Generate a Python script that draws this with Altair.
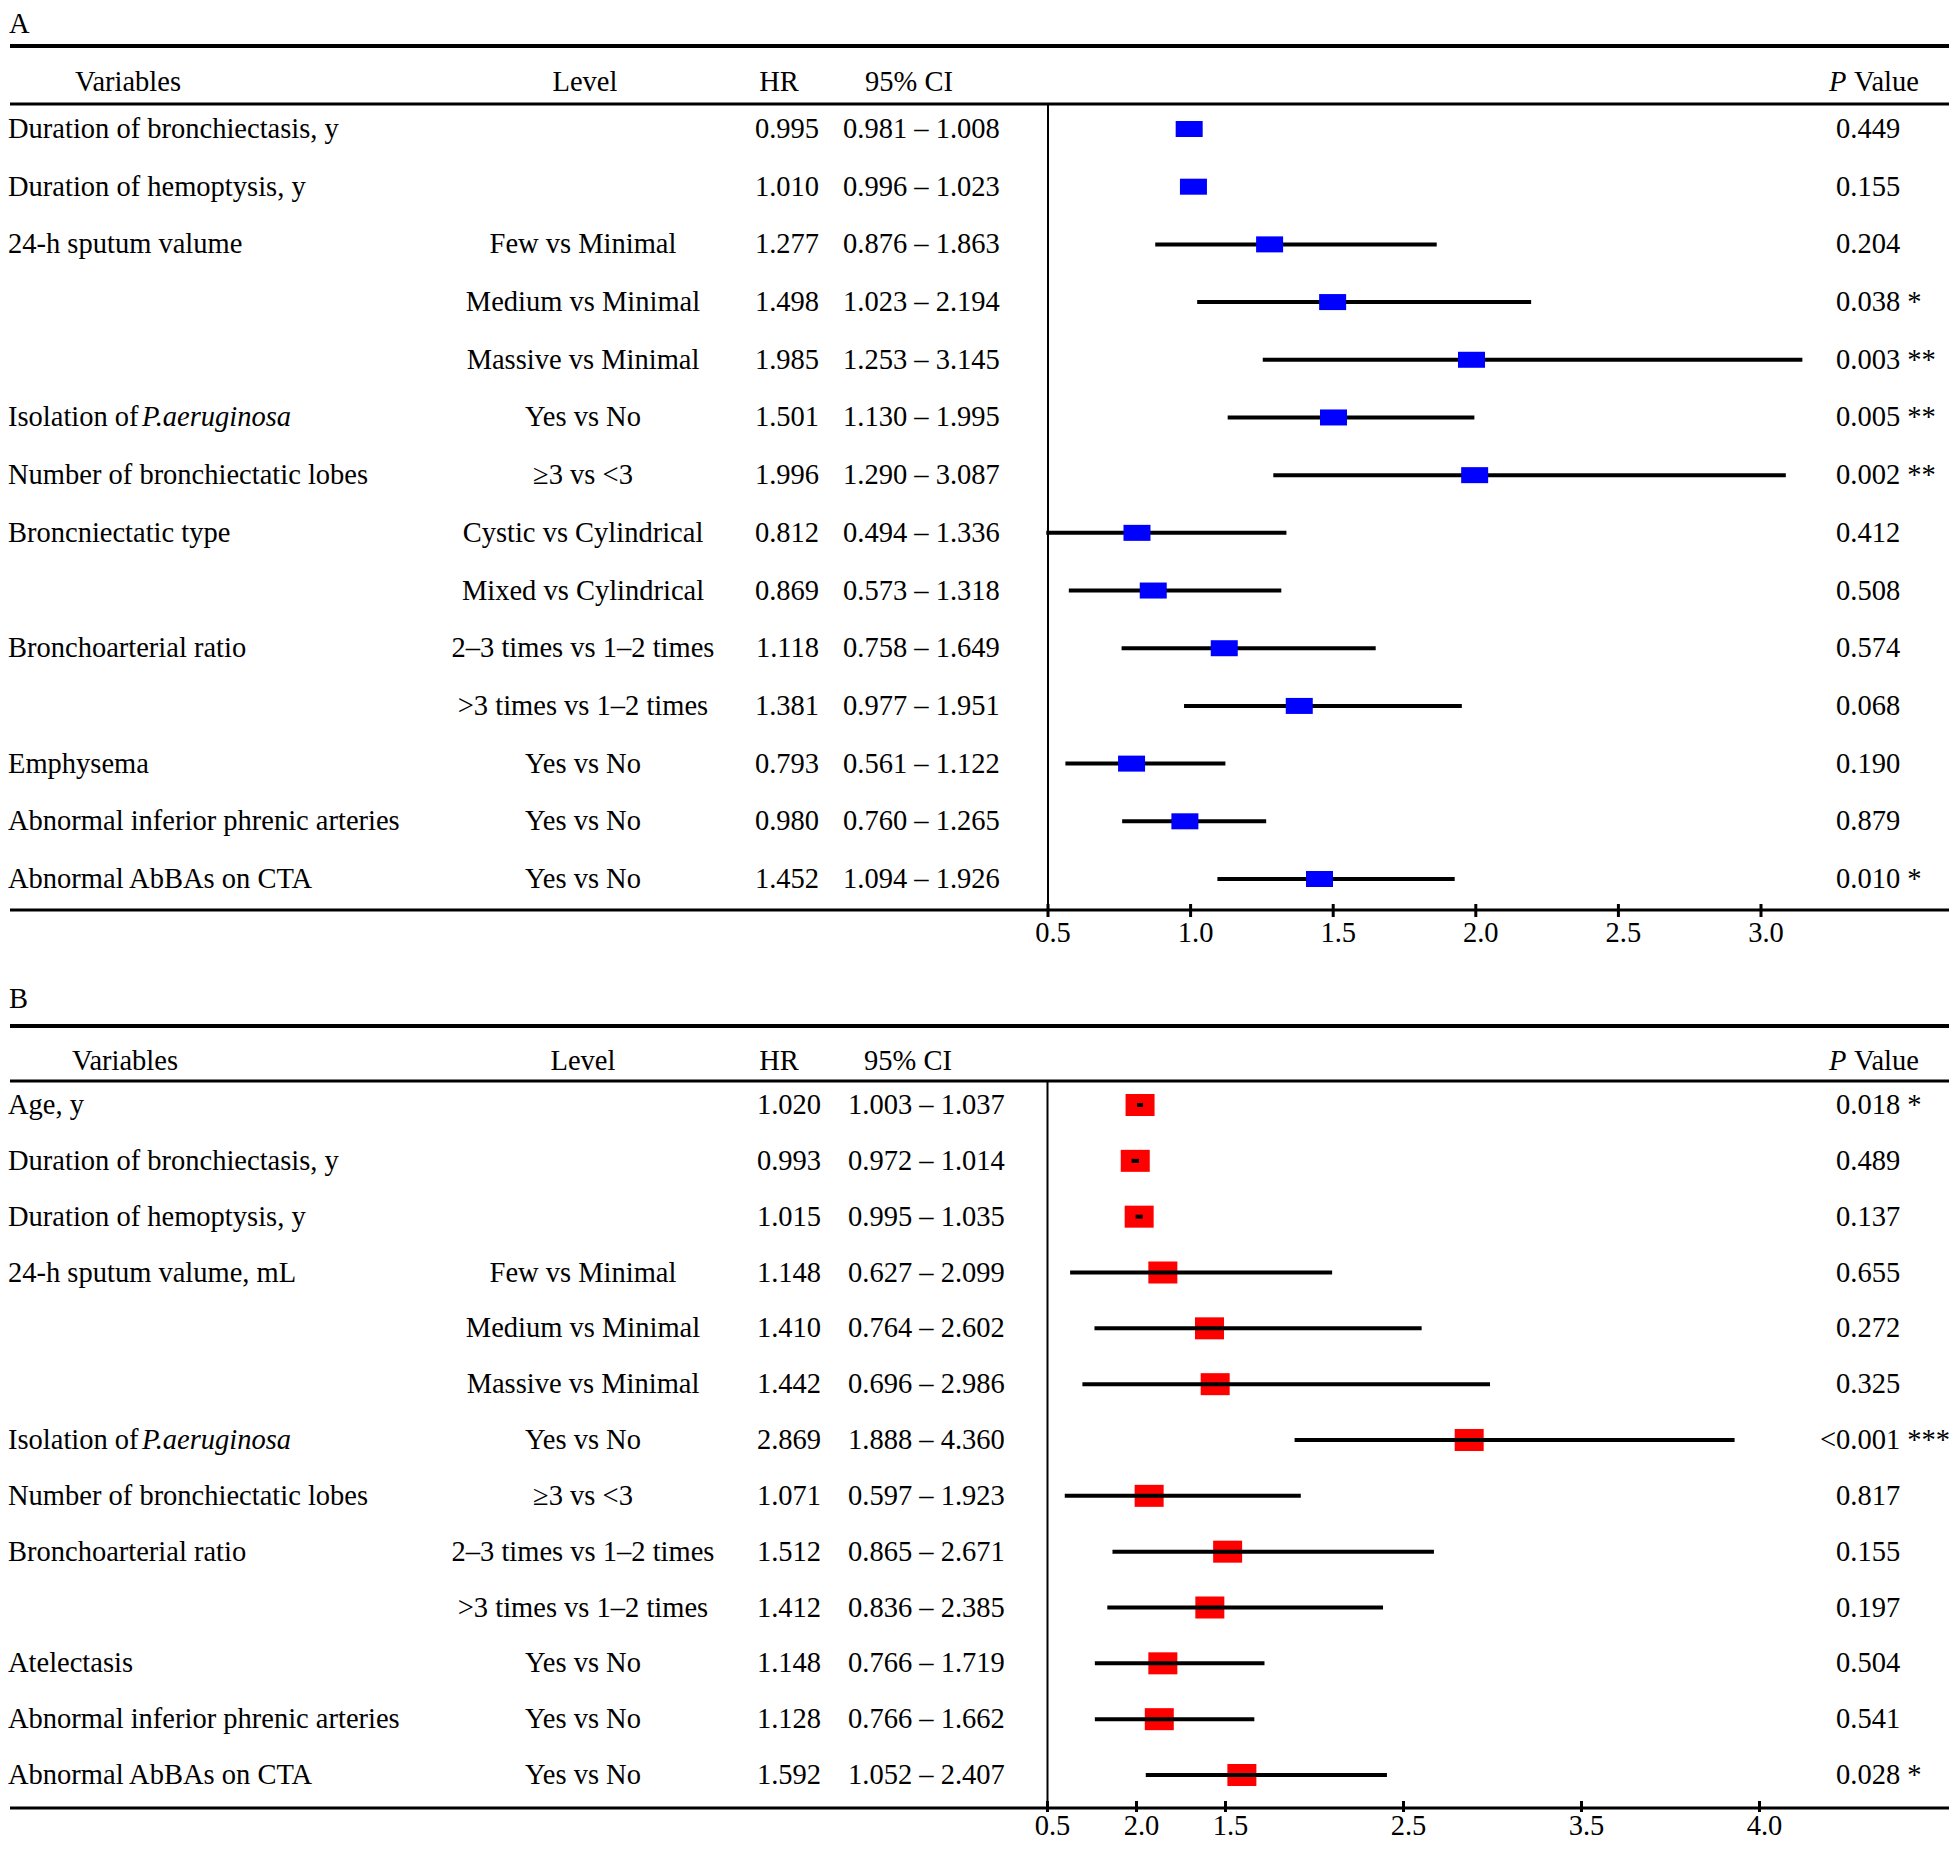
import altair as alt
import pandas as pd

FONT = "Liberation Serif"
FS = 28.5
W = 1943

# ---------------- Panel A data ----------------
vars_A = ["Duration of bronchiectasis, y", "Duration of hemoptysis, y", "24-h sputum valume", "", "",
          "Isolation of ", "Number of bronchiectatic lobes", "Broncniectatic type", "",
          "Bronchoarterial ratio", "", "Emphysema", "Abnormal inferior phrenic arteries",
          "Abnormal AbBAs on CTA"]
italic_A = ["", "", "", "", "", "P.aeruginosa", "", "", "", "", "", "", "", ""]
levels_A = ["", "", "Few vs Minimal", "Medium vs Minimal", "Massive vs Minimal", "Yes vs No",
            "\u22653 vs <3", "Cystic vs Cylindrical", "Mixed vs Cylindrical",
            "2\u20133 times vs 1\u20132 times", ">3 times vs 1\u20132 times", "Yes vs No",
            "Yes vs No", "Yes vs No"]
hr_A = [0.995, 1.010, 1.277, 1.498, 1.985, 1.501, 1.996, 0.812, 0.869, 1.118, 1.381, 0.793, 0.980, 1.452]
lo_A = [0.981, 0.996, 0.876, 1.023, 1.253, 1.130, 1.290, 0.494, 0.573, 0.758, 0.977, 0.561, 0.760, 1.094]
hi_A = [1.008, 1.023, 1.863, 2.194, 3.145, 1.995, 3.087, 1.336, 1.318, 1.649, 1.951, 1.122, 1.265, 1.926]
pre_A = [""] * 14
p_A = ["0.449", "0.155", "0.204", "0.038 *", "0.003 **", "0.005 **", "0.002 **", "0.412", "0.508",
       "0.574", "0.068", "0.190", "0.879", "0.010 *"]
tick_vals_A = [0.5, 1.0, 1.5, 2.0, 2.5, 3.0]
tick_labs_A = ["0.5", "1.0", "1.5", "2.0", "2.5", "3.0"]

# ---------------- Panel B data ----------------
vars_B = ["Age, y", "Duration of bronchiectasis, y", "Duration of hemoptysis, y", "24-h sputum valume, mL",
          "", "", "Isolation of ", "Number of bronchiectatic lobes", "Bronchoarterial ratio", "",
          "Atelectasis", "Abnormal inferior phrenic arteries", "Abnormal AbBAs on CTA"]
italic_B = ["", "", "", "", "", "", "P.aeruginosa", "", "", "", "", "", ""]
levels_B = ["", "", "", "Few vs Minimal", "Medium vs Minimal", "Massive vs Minimal", "Yes vs No",
            "\u22653 vs <3", "2\u20133 times vs 1\u20132 times", ">3 times vs 1\u20132 times",
            "Yes vs No", "Yes vs No", "Yes vs No"]
hr_B = [1.020, 0.993, 1.015, 1.148, 1.410, 1.442, 2.869, 1.071, 1.512, 1.412, 1.148, 1.128, 1.592]
lo_B = [1.003, 0.972, 0.995, 0.627, 0.764, 0.696, 1.888, 0.597, 0.865, 0.836, 0.766, 0.766, 1.052]
hi_B = [1.037, 1.014, 1.035, 2.099, 2.602, 2.986, 4.360, 1.923, 2.671, 2.385, 1.719, 1.662, 2.407]
pre_B = ["", "", "", "", "", "", "<", "", "", "", "", "", ""]
p_B = ["0.018 *", "0.489", "0.137", "0.655", "0.272", "0.325", "0.001 ***", "0.817", "0.155", "0.197",
       "0.504", "0.541", "0.028 *"]
tick_vals_B = [0.5, 1.0, 1.5, 2.5, 3.5, 4.5]
tick_labs_B = ["0.5", "2.0", "1.5", "2.5", "3.5", "4.0"]


def txt(**kw):
    base = dict(font=FONT, fontSize=FS, color="black", baseline="middle")
    base.update(kw)
    return base


def panel(label, vars_, italic_, levels, hr, lo, hi, pre, p, tvals, tlabs, color,
          box_on_top, geo):
    n = len(hr)
    df = pd.DataFrame({
        "row": list(range(1, n + 1)), "var": vars_, "ital": italic_, "level": levels,
        "hr": hr, "lo": lo, "hi": hi,
        "hr_txt": [f"{v:.3f}" for v in hr],
        "ci_txt": [f"{a:.3f} \u2013 {b:.3f}" for a, b in zip(lo, hi)],
        "pre": pre, "p": p,
    })
    ticks = pd.DataFrame({"v": tvals, "lab": tlabs})
    one = pd.DataFrame({"k": [0]})

    xs = alt.Scale(domain=geo["xdom"], range=geo["xrange"], nice=False, zero=False)
    ys = alt.Scale(domain=[1, n], range=geo["yrange"], nice=False, zero=False)
    Y = alt.Y("row:Q", scale=ys, axis=None)

    base = alt.Chart(df)
    layers = []

    # panel label
    layers.append(alt.Chart(one).mark_text(**txt(align="left", baseline="top")).encode(
        x=alt.value(1), y=alt.value(geo["label_y"]), text=alt.value(label)))
    # horizontal lines
    layers.append(alt.Chart(one).mark_rule(color="black", strokeWidth=4).encode(
        x=alt.value(2), x2=alt.value(W - 2), y=alt.value(geo["top_line"])))
    layers.append(alt.Chart(one).mark_rule(color="black", strokeWidth=3).encode(
        x=alt.value(2), x2=alt.value(W - 2), y=alt.value(geo["head_line"])))
    layers.append(alt.Chart(one).mark_rule(color="black", strokeWidth=3).encode(
        x=alt.value(2), x2=alt.value(W - 2), y=alt.value(geo["bot_line"])))
    # headers
    hy = geo["head_y"]
    for t, xx in [("Variables", geo["h_var"]), ("Level", geo["h_lev"]), ("HR", geo["h_hr"]),
                  ("95% CI", geo["h_ci"])]:
        layers.append(alt.Chart(one).mark_text(**txt(align="center")).encode(
            x=alt.value(xx), y=alt.value(hy), text=alt.value(t)))
    layers.append(alt.Chart(one).mark_text(**txt(align="left", fontStyle="italic")).encode(
        x=alt.value(1821), y=alt.value(hy), text=alt.value("P")))
    layers.append(alt.Chart(one).mark_text(**txt(align="left")).encode(
        x=alt.value(1846), y=alt.value(hy), text=alt.value("Value")))

    # vertical reference line at 0.5
    layers.append(alt.Chart(one).mark_rule(color="black", strokeWidth=2).encode(
        x=alt.X(datum=0.5, scale=xs, axis=None),
        y=alt.value(geo["head_line"]), y2=alt.value(geo["bot_line"])))

    # table text
    layers.append(base.mark_text(**txt(align="left")).encode(x=alt.value(0), y=Y, text="var:N"))
    layers.append(base.mark_text(**txt(align="left", fontStyle="italic")).encode(
        x=alt.value(134), y=Y, text="ital:N"))
    layers.append(base.mark_text(**txt(align="center")).encode(
        x=alt.value(geo["c_lev"]), y=Y, text="level:N"))
    layers.append(base.mark_text(**txt(align="right")).encode(
        x=alt.value(geo["c_hr"]), y=Y, text="hr_txt:N"))
    layers.append(base.mark_text(**txt(align="left")).encode(
        x=alt.value(geo["c_ci"]), y=Y, text="ci_txt:N"))
    layers.append(base.mark_text(**txt(align="right")).encode(
        x=alt.value(1828), y=Y, text="pre:N"))
    layers.append(base.mark_text(**txt(align="left")).encode(
        x=alt.value(1828), y=Y, text="p:N"))

    # forest marks
    ci = base.mark_rule(color="black", strokeWidth=4).encode(
        x=alt.X("lo:Q", scale=xs, axis=None), x2="hi:Q", y=Y)
    bw, bh = geo["box"]
    shape = f"M-1,-{bh / bw:.3f}H1V{bh / bw:.3f}H-1Z"
    box = base.mark_point(shape=shape, filled=True, opacity=1, size=bw * bw,
                          color=color, strokeWidth=0).encode(
        x=alt.X("hr:Q", scale=xs, axis=None), y=Y)
    layers += [ci, box] if box_on_top else [box, ci]

    # axis ticks and labels
    bl = geo["bot_line"]
    t_up, t_dn = geo["tick_ext"]
    layers.append(alt.Chart(ticks).mark_rule(color="black", strokeWidth=3).encode(
        x=alt.X("v:Q", scale=xs, axis=None), y=alt.value(bl - t_up), y2=alt.value(bl + t_dn)))
    layers.append(alt.Chart(ticks).mark_text(**txt(align="center", baseline=geo["tick_base"]), dx=5).encode(
        x=alt.X("v:Q", scale=xs, axis=None), y=alt.value(geo["tick_y"]), text="lab:N"))

    return alt.layer(*layers).properties(width=W, height=geo["height"])


geoA = dict(xdom=[0.5, 3.0], xrange=[1040, 1753], yrange=[121, 871], label_y=2,
            top_line=38, head_line=96, bot_line=902, head_y=74,
            h_var=120, h_lev=577, h_hr=771, h_ci=901,
            c_lev=575, c_hr=811, c_ci=835, box=(27, 16), tick_y=925, tick_base="middle",
            tick_ext=(6, 7), height=975)
geoB = dict(xdom=[0.5, 4.5], xrange=[1039.5, 1751.5], yrange=[122, 792], label_y=2,
            top_line=43, head_line=98, bot_line=825, head_y=78,
            h_var=117, h_lev=575, h_hr=771, h_ci=900,
            c_lev=575, c_hr=813, c_ci=840, box=(29, 22), tick_y=852, tick_base="alphabetic",
            tick_ext=(7, 4), height=858)

pA = panel("A", vars_A, italic_A, levels_A, hr_A, lo_A, hi_A, pre_A, p_A,
           tick_vals_A, tick_labs_A, "#0000FF", True, geoA)
pB = panel("B", vars_B, italic_B, levels_B, hr_B, lo_B, hi_B, pre_B, p_B,
           tick_vals_B, tick_labs_B, "#FF0000", False, geoB)

chart = alt.vconcat(pA, pB, spacing=0).properties(padding=0, background="white").configure_view(stroke=None)

chart.save("out.html", embed_options={"renderer": "svg", "actions": False})
